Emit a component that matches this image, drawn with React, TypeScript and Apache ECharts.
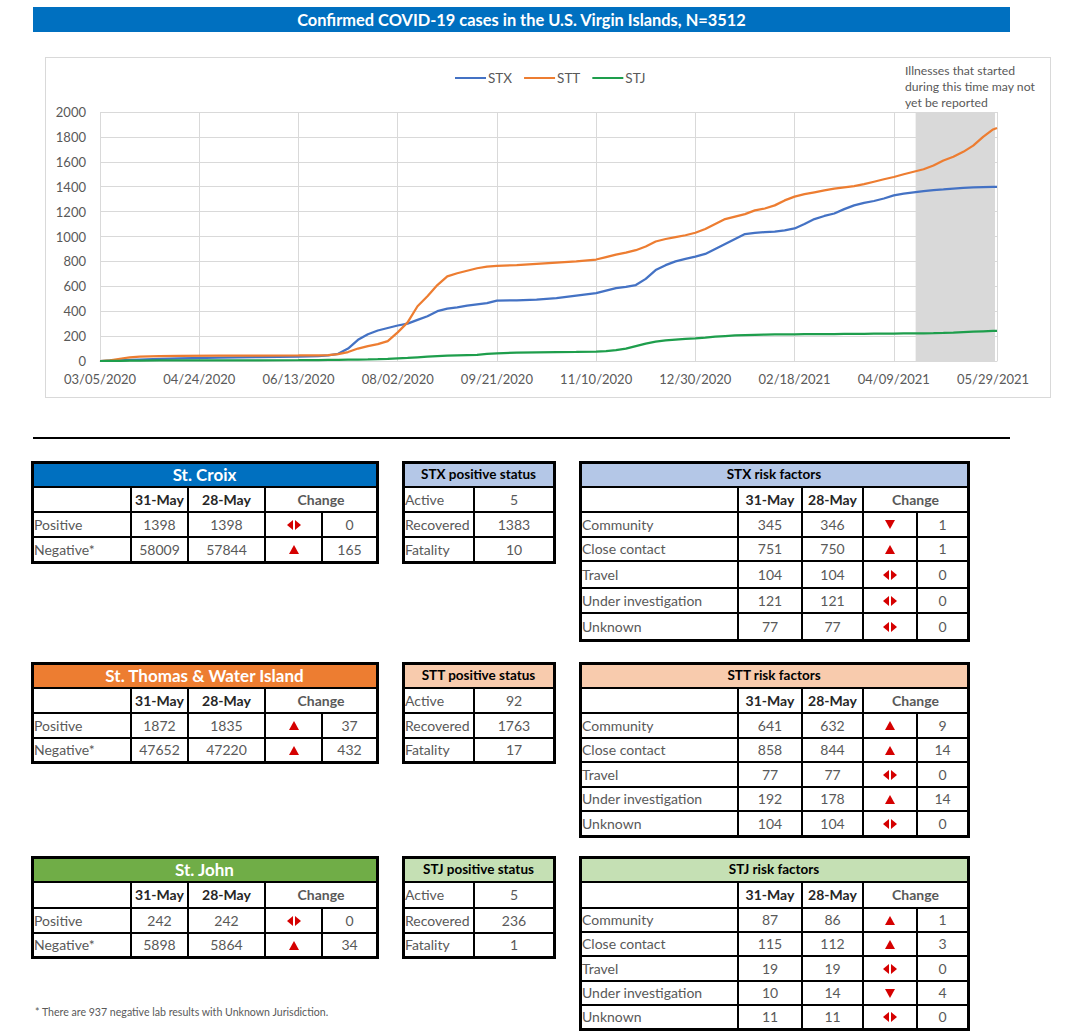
import React, { useEffect, useRef } from "react";
import * as echarts from "echarts";

// ---------------- DATA ----------------
const chartTitle = "Confirmed COVID-19 cases in the U.S. Virgin Islands, N=3512";
const startDateUTC = Date.UTC(2020, 2, 5); // day 0 = 03/05/2020

const dayIndex = [
  0, 5, 10, 15, 20, 30, 40, 60, 80, 100, 110, 115, 120, 125, 130, 135, 140, 145, 150, 155,
  160, 165, 170, 175, 180, 185, 190, 195, 200, 210, 220, 230, 240, 250, 255, 260, 265, 270, 275, 280,
  285, 290, 295, 300, 305, 310, 315, 320, 325, 330, 335, 340, 345, 350, 355, 360, 365, 370, 375, 380,
  385, 390, 395, 400, 405, 410, 415, 420, 425, 430, 435, 440, 445, 450, 452,
];
const stxCases = [
  0, 3, 6, 9, 12, 18, 22, 28, 32, 36, 40, 45, 58, 100, 170, 215, 245, 265, 285, 300,
  330, 360, 400, 420, 430, 445, 455, 465, 485, 487, 492, 505, 525, 545, 565, 585, 595, 610, 660, 730,
  770, 800, 820, 838, 860, 900, 940, 980, 1020, 1030, 1035, 1040, 1050, 1065, 1100, 1140, 1165, 1185, 1220, 1250,
  1270, 1285, 1305, 1330, 1345, 1355, 1365, 1372, 1378, 1385, 1390, 1395, 1397, 1398, 1398,
];
const sttCases = [
  0, 5, 18, 30, 36, 40, 42, 43, 44, 45, 46, 48, 55, 72, 100, 120, 135, 160, 230, 310,
  440, 520, 610, 680, 705, 725, 745, 758, 765, 770, 780, 790, 800, 815, 835, 855, 870, 890, 920, 960,
  980, 995, 1010, 1030, 1060, 1100, 1140, 1160, 1180, 1210, 1225, 1250, 1290, 1320, 1340, 1355, 1370, 1385, 1395, 1405,
  1420, 1440, 1460, 1478, 1500, 1520, 1540, 1570, 1610, 1640, 1680, 1730, 1800, 1860, 1872,
];
const stjCases = [
  0, 1, 2, 3, 4, 5, 5, 6, 6, 7, 8, 9, 10, 11, 12, 13, 15, 18, 22, 25,
  30, 35, 40, 44, 46, 48, 50, 58, 62, 68, 70, 72, 73, 76, 80, 88, 100, 120, 140, 155,
  165, 172, 178, 182, 188, 195, 200, 205, 208, 210, 212, 213, 214, 214, 215, 215, 216, 216, 217, 217,
  218, 219, 220, 220, 221, 222, 222, 223, 225, 228, 232, 235, 238, 241, 242,
];
const seriesNames = ["STX", "STT", "STJ"];
const seriesColors = ["#4472C4", "#ED7D31", "#1E9E4C"];
const pendingWindow = [411, 451];
const annotationLines = ["Illnesses that started", "during this time may not", "yet be reported"];
const yTicks = { min: 0, max: 2000, interval: 200 };
const xTicks = { min: 0, max: 452, interval: 50 };

const dateHeaders = ["31-May", "28-May"];
const changeHeader = "Change";
const summaryLabels = ["Positive", "Negative*"];
const statusLabels = ["Active", "Recovered", "Fatality"];
const riskLabels = ["Community", "Close contact", "Travel", "Under investigation", "Unknown"];

const jurisdictionNames = ["St. Croix", "St. Thomas & Water Island", "St. John"];
const statusTitles = ["STX positive status", "STT positive status", "STJ positive status"];
const riskTitles = ["STX risk factors", "STT risk factors", "STJ risk factors"];

const stxSummary = [[1398, 1398], [58009, 57844]];
const sttSummary = [[1872, 1835], [47652, 47220]];
const stjSummary = [[242, 242], [5898, 5864]];
const stxStatus = [5, 1383, 10];
const sttStatus = [92, 1763, 17];
const stjStatus = [5, 236, 1];
const stxRisk = [[345, 346], [751, 750], [104, 104], [121, 121], [77, 77]];
const sttRisk = [[641, 632], [858, 844], [77, 77], [192, 178], [104, 104]];
const stjRisk = [[87, 86], [115, 112], [19, 19], [10, 14], [11, 11]];

const footnote = "* There are 937 negative lab results with Unknown Jurisdiction.";

// ---------------- STYLE / LAYOUT ----------------
const FONT = "Lato, 'Open Sans', sans-serif";
const GREY = "#595959";
const ARROW_RED = "#D50000";
const darkFills = ["#0070C0", "#ED7D31", "#70AD47"];
const lightFills = ["#B4C7E7", "#F8CBAD", "#C5E0B4"];
const CELL_FONT = 14;

const summaryCols = [32, 131, 188, 265, 322, 377];
const statusCols = [403, 474, 554];
const riskCols = [580, 738, 802, 863, 917, 968];
const blockTops = [462, 663, 857];
const summaryRowH = [[25, 25, 25, 25], [25, 25, 25, 24], [25, 26, 25, 24]];
const riskRowH = [[25, 25, 25, 24, 27, 25, 27], [25, 25, 25, 24, 25, 24, 25], [25, 26, 24, 24, 25, 24, 24]];

type Cell = {
  x0: number; x1: number; y0: number; y1: number;
  text?: string; align?: "left" | "center"; bold?: boolean; color?: string;
  bg?: string; size?: number; arrow?: number;
};
type Line = { x: number; y: number; w: number; h: number };

function edges(top: number, heights: number[]) {
  const r = [top];
  heights.forEach((h) => r.push(r[r.length - 1] + h));
  return r;
}

function frameLines(cols: number[], rows: number[], vRule: (row: number, col: number) => boolean): Line[] {
  const lines: Line[] = [];
  const L = cols[0], R = cols[cols.length - 1], T = rows[0], B = rows[rows.length - 1];
  for (let i = 1; i < rows.length - 1; i++) lines.push({ x: L, y: rows[i] - 1, w: R - L, h: 2 });
  for (let r = 0; r < rows.length - 1; r++) {
    for (let c = 1; c < cols.length - 1; c++) {
      if (vRule(r, c)) lines.push({ x: cols[c] - 1, y: rows[r], w: 2, h: rows[r + 1] - rows[r] });
    }
  }
  lines.push({ x: L - 1.5, y: T - 1.5, w: R - L + 3, h: 3 });
  lines.push({ x: L - 1.5, y: B - 1.5, w: R - L + 3, h: 3 });
  lines.push({ x: L - 1.5, y: T - 1.5, w: 3, h: B - T + 3 });
  lines.push({ x: R - 1.5, y: T - 1.5, w: 3, h: B - T + 3 });
  return lines;
}

function compareTable(cols: number[], rows: number[], title: string, titleBg: string, titleColor: string,
  titleSize: number, labels: string[], values: number[][]) {
  const cells: Cell[] = [];
  cells.push({ x0: cols[0], x1: cols[5], y0: rows[0], y1: rows[1], text: title, align: "center", bold: true, color: titleColor, bg: titleBg, size: titleSize });
  cells.push({ x0: cols[1], x1: cols[2], y0: rows[1], y1: rows[2], text: dateHeaders[0], align: "center", bold: true, color: "#262626" });
  cells.push({ x0: cols[2], x1: cols[3], y0: rows[1], y1: rows[2], text: dateHeaders[1], align: "center", bold: true, color: "#262626" });
  cells.push({ x0: cols[3], x1: cols[5], y0: rows[1], y1: rows[2], text: changeHeader, align: "center", bold: true, color: GREY });
  labels.forEach((lab, i) => {
    const y0 = rows[i + 2], y1 = rows[i + 3];
    const [a, b] = values[i];
    const d = a - b;
    cells.push({ x0: cols[0], x1: cols[1], y0, y1, text: lab, align: "left", color: GREY });
    cells.push({ x0: cols[1], x1: cols[2], y0, y1, text: String(a), align: "center", color: GREY });
    cells.push({ x0: cols[2], x1: cols[3], y0, y1, text: String(b), align: "center", color: GREY });
    cells.push({ x0: cols[3], x1: cols[4], y0, y1, arrow: Math.sign(d) });
    cells.push({ x0: cols[4], x1: cols[5], y0, y1, text: String(Math.abs(d)), align: "center", color: GREY });
  });
  const lines = frameLines(cols, rows, (r, c) => (r === 0 ? false : r === 1 ? c !== 4 : true));
  return { cells, lines };
}

function statusTable(cols: number[], rows: number[], title: string, bg: string, labels: string[], values: number[]) {
  const cells: Cell[] = [];
  cells.push({ x0: cols[0], x1: cols[2], y0: rows[0], y1: rows[1], text: title, align: "center", bold: true, color: "#000", bg, size: 13.5 });
  labels.forEach((lab, i) => {
    const y0 = rows[i + 1], y1 = rows[i + 2];
    cells.push({ x0: cols[0], x1: cols[1], y0, y1, text: lab, align: "left", color: GREY });
    cells.push({ x0: cols[1], x1: cols[2], y0, y1, text: String(values[i]), align: "center", color: GREY });
  });
  const lines = frameLines(cols, rows, (r) => r !== 0);
  return { cells, lines };
}

function Arrow({ dir }: { dir: number }) {
  if (dir > 0)
    return <div style={{ width: 0, height: 0, borderLeft: "5px solid transparent", borderRight: "5px solid transparent", borderBottom: `9px solid ${ARROW_RED}` }} />;
  if (dir < 0)
    return <div style={{ width: 0, height: 0, borderLeft: "5px solid transparent", borderRight: "5px solid transparent", borderTop: `9px solid ${ARROW_RED}` }} />;
  return (
    <div style={{ display: "flex", gap: 2 }}>
      <div style={{ width: 0, height: 0, borderTop: "5px solid transparent", borderBottom: "5px solid transparent", borderRight: `6px solid ${ARROW_RED}` }} />
      <div style={{ width: 0, height: 0, borderTop: "5px solid transparent", borderBottom: "5px solid transparent", borderLeft: `6px solid ${ARROW_RED}` }} />
    </div>
  );
}

function TableView({ cells, lines }: { cells: Cell[]; lines: Line[] }) {
  return (
    <>
      {cells.map((c, i) => (
        <div key={"c" + i} style={{
          position: "absolute", left: c.x0, top: c.y0, width: c.x1 - c.x0, height: c.y1 - c.y0,
          background: c.bg || "#fff", display: "flex", alignItems: "center",
          justifyContent: c.align === "left" ? "flex-start" : "center",
          paddingLeft: c.align === "left" ? 2 : 0, boxSizing: "border-box",
          fontFamily: FONT, fontSize: c.size || CELL_FONT, fontWeight: c.bold ? 700 : 400,
          color: c.color || GREY, whiteSpace: "nowrap", lineHeight: 1,
        }}>
          {c.arrow !== undefined ? <Arrow dir={c.arrow} /> : c.text}
        </div>
      ))}
      {lines.map((l, i) => (
        <div key={"l" + i} style={{ position: "absolute", left: l.x, top: l.y, width: l.w, height: l.h, background: "#000" }} />
      ))}
    </>
  );
}

function formatDay(v: number) {
  const d = new Date(startDateUTC + v * 86400000);
  const mm = String(d.getUTCMonth() + 1).padStart(2, "0");
  const dd = String(d.getUTCDate()).padStart(2, "0");
  return `${mm}/${dd}/${d.getUTCFullYear()}`;
}

function CasesChart() {
  const ref = useRef<HTMLDivElement>(null);
  useEffect(() => {
    if (!ref.current) return;
    const chart = echarts.init(ref.current, null, { renderer: "svg" });
    const valueSets = [stxCases, sttCases, stjCases];
    const option: any = {
      animation: false,
      textStyle: { fontFamily: FONT },
      grid: { left: 54, right: 53, top: 54, bottom: 36 },
      legend: {
        data: seriesNames, left: 409, top: 13, padding: 0, icon: "rect", itemWidth: 31, itemHeight: 2, itemGap: 12,
        textStyle: { color: GREY, fontSize: 13.5, fontFamily: FONT, padding: [0, 0, 0, -3] },
      },
      xAxis: {
        type: "value", min: xTicks.min, max: xTicks.max, interval: xTicks.interval,
        axisLine: { show: true, lineStyle: { color: "#D9D9D9", width: 1 } },
        axisTick: { show: false },
        splitLine: { show: true, lineStyle: { color: "#D9D9D9", width: 1 } },
        axisLabel: { formatter: formatDay, color: GREY, fontSize: 13, margin: 11, showMaxLabel: false, fontFamily: FONT },
      },
      yAxis: {
        type: "value", min: yTicks.min, max: yTicks.max, interval: yTicks.interval,
        axisLine: { show: false }, axisTick: { show: false },
        splitLine: { show: true, lineStyle: { color: "#D9D9D9", width: 1 } },
        axisLabel: { color: GREY, fontSize: 13, margin: 14, fontFamily: FONT, formatter: (v: number) => String(v) },
      },
      graphic: [{
        type: "text", left: 859, top: 4,
        style: { text: annotationLines.join("\n"), fill: GREY, font: `12.2px ${FONT}`, lineHeight: 16 },
      }],
      series: [
        {
          name: "pending", type: "line", data: [], z: 1, silent: true,
          markArea: { silent: true, itemStyle: { color: "#D9D9D9" }, data: [[{ xAxis: pendingWindow[0] }, { xAxis: pendingWindow[1] }]] },
        },
        ...seriesNames.map((name, k) => ({
          name, type: "line", z: 3, showSymbol: false, symbol: "none",
          data: dayIndex.map((d, i) => [d, valueSets[k][i]]),
          lineStyle: { color: seriesColors[k], width: 2.25 },
          itemStyle: { color: seriesColors[k] },
        })),
      ],
    };
    chart.setOption(option);
    return () => chart.dispose();
  }, []);
  return <div ref={ref} style={{ width: 1004, height: 339 }} />;
}

export default function App() {
  const summaries = [stxSummary, sttSummary, stjSummary];
  const statuses = [stxStatus, sttStatus, stjStatus];
  const risks = [stxRisk, sttRisk, stjRisk];
  const tables = [0, 1, 2].flatMap((k) => {
    const top = blockTops[k];
    return [
      compareTable(summaryCols, edges(top, summaryRowH[k]), jurisdictionNames[k], darkFills[k], "#fff", 17, summaryLabels, summaries[k]),
      statusTable(statusCols, edges(top, summaryRowH[k]), statusTitles[k], lightFills[k], statusLabels, statuses[k]),
      compareTable(riskCols, edges(top, riskRowH[k]), riskTitles[k], lightFills[k], "#000", 13.5, riskLabels, risks[k]),
    ];
  });
  return (
    <div style={{ position: "absolute", left: 0, top: 0, width: 1083, height: 1034, background: "#fff", overflow: "hidden", fontFamily: FONT }}>
      <div style={{
        position: "absolute", left: 33, top: 7, width: 977, height: 25, background: "#0070C0",
        color: "#fff", fontWeight: 700, fontSize: 16.4, display: "flex", alignItems: "center", justifyContent: "center",
      }}>{chartTitle}</div>
      <div style={{ position: "absolute", left: 45, top: 57, width: 1006, height: 341, border: "1px solid #D9D9D9", boxSizing: "border-box" }}>
        <CasesChart />
      </div>
      <div style={{ position: "absolute", left: 33, top: 437, width: 977, height: 2, background: "#000" }} />
      {tables.map((t, i) => <TableView key={i} cells={t.cells} lines={t.lines} />)}
      <div style={{ position: "absolute", left: 35, top: 1006, fontSize: 10.6, color: GREY, whiteSpace: "nowrap" }}>{footnote}</div>
    </div>
  );
}
